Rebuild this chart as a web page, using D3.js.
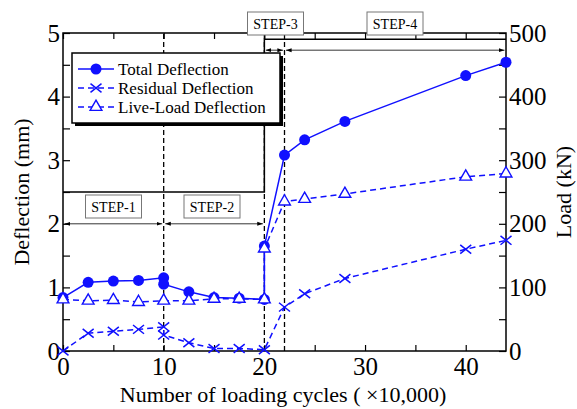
<!DOCTYPE html>
<html><head><meta charset="utf-8">
<script src="https://cdn.jsdelivr.net/npm/d3@7"></script>
</head><body style="margin:0">
<script>
// Data
const totalX = [0, 2.5, 5, 7.5, 10, 10, 12.5, 15, 17.5, 20, 20, 22, 24, 28, 40, 44];
const totalY = [0.84, 1.08, 1.10, 1.11, 1.15, 1.05, 0.93, 0.84, 0.83, 0.81, 1.65, 3.08, 3.32, 3.61, 4.33, 4.54];
const residX = [0, 2.5, 5, 7.5, 10, 10, 12.5, 15, 17.5, 20, 22, 24, 28, 40, 44];
const residY = [0.0, 0.28, 0.31, 0.34, 0.38, 0.25, 0.13, 0.04, 0.04, 0.02, 0.69, 0.90, 1.14, 1.60, 1.74];
const liveX = [0, 2.5, 5, 7.5, 10, 12.5, 15, 17.5, 20, 20, 22, 24, 28, 40, 44];
const liveY = [0.81, 0.79, 0.80, 0.77, 0.79, 0.79, 0.82, 0.82, 0.81, 1.61, 2.35, 2.39, 2.47, 2.74, 2.79];
const loadX = [0, 20, 20, 44];
const loadY = [250, 250, 490, 490];
const stepBounds = [0, 10, 20, 22, 44];
const stepNames = ["STEP-1", "STEP-2", "STEP-3", "STEP-4"];
const xTicks = [0, 10, 20, 30, 40];
const yTicks = [0, 1, 2, 3, 4, 5];
const y2Ticks = [0, 100, 200, 300, 400, 500];
const seriesNames = ["Total Deflection", "Residual Deflection", "Live-Load Deflection"];

const W = 577, H = 409;
const m = {l: 63, r: 71, t: 33, b: 58};
const svg = d3.select("body").append("svg").attr("width", W).attr("height", H)
  .style("display", "block").style("font-family", '"Liberation Serif"');
const x = d3.scaleLinear().domain([0, 44]).range([m.l, W - m.r]);
const y = d3.scaleLinear().domain([0, 5]).range([H - m.b, m.t]);
const y2 = d3.scaleLinear().domain([0, 500]).range([H - m.b, m.t]);
const blue = "#1010ff";
function txt(sel) { return sel.attr("font-family", "Liberation Serif").style("font-family", '"Liberation Serif"').attr("fill", "#000"); }

// Frame
svg.append("rect").attr("x", m.l).attr("y", m.t).attr("width", x(44) - m.l).attr("height", y(0) - m.t)
  .attr("fill", "none").attr("stroke", "#000").attr("stroke-width", 1.5);

function tickSet(g) { g.selectAll(".domain").remove(); g.selectAll("line").attr("stroke", "#000").attr("stroke-width", 1.2); }
function labelSet(g) { g.attr("font-family", "Liberation Serif"); g.selectAll(".domain").remove(); txt(g.selectAll("text")).attr("font-size", 25); }
const xMinor = d3.range(0, 45, 5);
svg.append("g").attr("transform", `translate(0,${y(0)})`)
  .call(d3.axisTop(x).tickValues(xMinor).tickSize(6).tickFormat("")).call(tickSet);
svg.append("g").attr("transform", `translate(0,${y(0)})`)
  .call(d3.axisBottom(x).tickValues(xTicks).tickSize(0).tickPadding(6)).call(labelSet);
svg.append("g").attr("transform", `translate(0,${y(5)})`)
  .call(d3.axisBottom(x).tickValues(xMinor).tickSize(6).tickFormat("")).call(tickSet);
const yMinor = d3.range(0, 5.01, 0.5);
svg.append("g").attr("transform", `translate(${m.l},0)`)
  .call(d3.axisRight(y).tickValues(yMinor).tickSize(7).tickFormat("")).call(tickSet);
svg.append("g").attr("transform", `translate(${m.l},0)`)
  .call(d3.axisLeft(y).tickValues(yTicks).tickSize(0).tickPadding(3).tickFormat(d3.format("d"))).call(labelSet);
const y2Minor = d3.range(0, 501, 50);
svg.append("g").attr("transform", `translate(${x(44)},0)`)
  .call(d3.axisLeft(y2).tickValues(y2Minor).tickSize(7).tickFormat("")).call(tickSet);
svg.append("g").attr("transform", `translate(${x(44)},0)`)
  .call(d3.axisRight(y2).tickValues(y2Ticks).tickSize(0).tickPadding(3)).call(labelSet);

// Axis titles
txt(svg.append("text")).attr("x", 283).attr("y", 402).attr("text-anchor", "middle")
  .attr("font-size", 22).text("Number of loading cycles ( ×10,000)");
txt(svg.append("text")).attr("transform", `translate(29,${(y(0)+y(5))/2}) rotate(-90)`).attr("text-anchor", "middle")
  .attr("font-size", 22).text("Deflection (mm)");
txt(svg.append("text")).attr("transform", `translate(571,${(y(0)+y(5))/2}) rotate(-90)`).attr("text-anchor", "middle")
  .attr("font-size", 22).text("Load (kN)");

// Vertical dashed step boundaries
[10, 20, 22].forEach(v => {
  svg.append("line").attr("x1", x(v)).attr("x2", x(v)).attr("y1", y(0)).attr("y2", y(5))
    .attr("stroke", "#000").attr("stroke-width", 1.3).attr("stroke-dasharray", "5,3");
});

// Load line
const loadPts = loadX.map((v, i) => [x(v), y2(loadY[i])]);
svg.append("path").attr("d", d3.line()(loadPts)).attr("fill", "none").attr("stroke", "#000").attr("stroke-width", 1.5);

// Step arrows
const defs = svg.append("defs");
defs.append("marker").attr("id", "ah").attr("viewBox", "0 0 10 10").attr("refX", 10).attr("refY", 5)
  .attr("markerWidth", 7).attr("markerHeight", 7).attr("orient", "auto-start-reverse")
  .append("path").attr("d", "M0,1.5L10,5L0,8.5Z").attr("fill", "#000");
const arrowY = [2.0, 2.0, 4.73, 4.73];
for (let i = 0; i < 4; i++) {
  svg.append("line").attr("x1", x(stepBounds[i]) + 1.5).attr("x2", x(stepBounds[i+1]) - 1.5)
    .attr("y1", y(arrowY[i])).attr("y2", y(arrowY[i]))
    .attr("stroke", "#000").attr("stroke-width", 0.8)
    .attr("marker-start", "url(#ah)").attr("marker-end", "url(#ah)");
}
const stepCx = [113.5, 212, 275.5, 395];
const stepCy = [206.5, 206.5, 23.5, 23.5];
for (let i = 0; i < 4; i++) {
  svg.append("rect").attr("x", stepCx[i] - 28).attr("y", stepCy[i] - 11.5).attr("width", 56).attr("height", 23)
    .attr("fill", "#fff").attr("stroke", "#777").attr("stroke-width", 1);
  txt(svg.append("text")).attr("x", stepCx[i]).attr("y", stepCy[i] + 5).attr("text-anchor", "middle")
    .attr("font-size", 14).text(stepNames[i]);
}

// Series
function drawLine(xs, ys, dash) {
  const pts = xs.map((v, i) => [x(v), y(ys[i])]);
  svg.append("path").attr("d", d3.line()(pts)).attr("fill", "none").attr("stroke", blue)
    .attr("stroke-width", 1.5).attr("stroke-dasharray", dash);
  return pts;
}
const tri = d3.symbol().type(d3.symbolTriangle).size(60);
function markTri(g, px, py) {
  g.append("path").attr("d", tri()).attr("transform", `translate(${px},${py})`)
    .attr("fill", "#fff").attr("stroke", blue).attr("stroke-width", 1.4);
}
function markX(g, px, py) {
  const s = 5.5;
  g.append("path").attr("d", `M${px-s},${py-s*0.8}L${px+s},${py+s*0.8}M${px-s},${py+s*0.8}L${px+s},${py-s*0.8}`)
    .attr("stroke", blue).attr("stroke-width", 1.5).attr("fill", "none");
}
function markO(g, px, py) {
  g.append("circle").attr("cx", px).attr("cy", py).attr("r", 5.5).attr("fill", blue);
}
const rp = drawLine(residX, residY, "6,4");
rp.forEach(p => markX(svg, p[0], p[1]));
const lp = drawLine(liveX, liveY, "6,4");
const tp = drawLine(totalX, totalY, null);
tp.forEach(p => markO(svg, p[0], p[1]));
lp.forEach(p => markTri(svg, p[0], p[1]));

// Legend
const lg = svg.append("g");
lg.append("rect").attr("x", 75).attr("y", 56).attr("width", 208).attr("height", 70).attr("fill", "#000");
lg.append("rect").attr("x", 72).attr("y", 53).attr("width", 208).attr("height", 70).attr("fill", "#fff")
  .attr("stroke", "#000").attr("stroke-width", 1.5);
const legY = [69, 88, 107];
const dashes = [null, "6,4", "6,4"];
for (let i = 0; i < 3; i++) {
  lg.append("line").attr("x1", 78).attr("x2", 114).attr("y1", legY[i]).attr("y2", legY[i])
    .attr("stroke", blue).attr("stroke-width", 1.5).attr("stroke-dasharray", dashes[i]);
  if (i === 0) markO(lg, 96, legY[i]);
  if (i === 1) markX(lg, 96, legY[i]);
  if (i === 2) markTri(lg, 96, legY[i]);
  txt(lg.append("text")).attr("x", 118).attr("y", legY[i] + 6).attr("font-size", 17)
    .text(seriesNames[i]);
}
</script>
</body></html>
